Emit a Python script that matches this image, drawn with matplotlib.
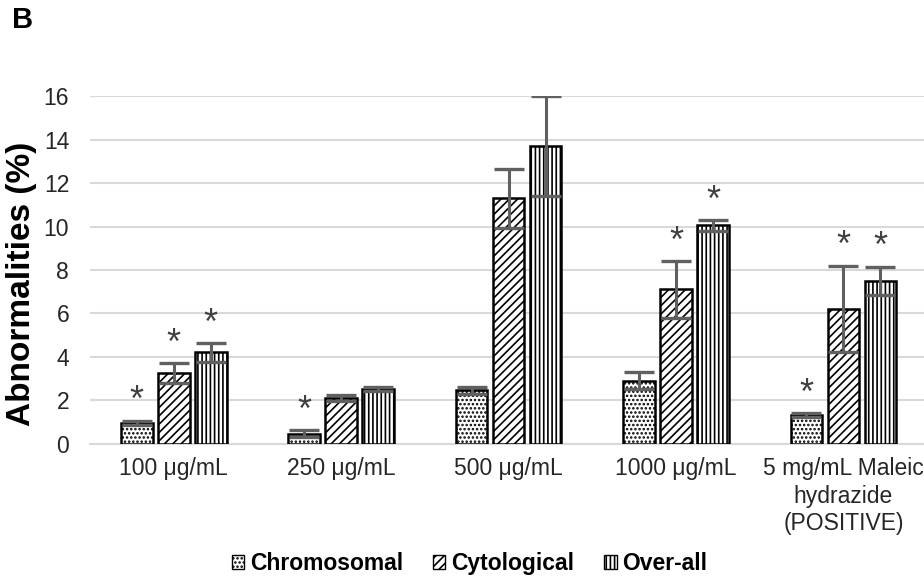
import numpy as np
import matplotlib.pyplot as plt
from matplotlib.patches import Patch

plt.rcParams['font.family'] = ['Liberation Sans', 'DejaVu Sans']
plt.rcParams['hatch.linewidth'] = 1.2

# dane
groups = ['100 μg/mL', '250 μg/mL', '500 μg/mL', '1000 μg/mL',
          '5 mg/mL Maleic\nhydrazide\n(POSITIVE)']
series = ['Chromosomal', 'Cytological', 'Over-all']
chromosomal = [0.95, 0.45, 2.45, 2.9, 1.3]
chromosomal_err = [0.1, 0.15, 0.15, 0.38, 0.1]
cytological = [3.25, 2.1, 11.3, 7.1, 6.2]
cytological_err = [0.45, 0.15, 1.35, 1.3, 2.0]
overall = [4.2, 2.5, 13.7, 10.05, 7.5]
overall_err = [0.43, 0.1, 2.3, 0.25, 0.65]
# gwiazdki istotnosci
chromosomal_sig = [1, 1, 0, 0, 1]
cytological_sig = [1, 0, 0, 1, 1]
overall_sig = [1, 0, 0, 1, 1]

hatches = ['....', '////', '||||']
values = [chromosomal, cytological, overall]
errors = [chromosomal_err, cytological_err, overall_err]
sigs = [chromosomal_sig, cytological_sig, overall_sig]

fig = plt.figure(figsize=(9.24, 5.79), dpi=100)
ax = fig.add_axes([0.0974, 0.234, 0.906, 0.5996])

x = np.arange(len(groups))
width = 0.19
step = 0.221
star_size = 26
# przesuniecie linii bazowej gwiazdki (srodek gwiazdki ~0.58 em nad linia bazowa)
star_shift = 1.4 - 0.58 * star_size / 72 * 100 / (0.5996 * 579 / 16)
for i in range(3):
    pos = x + (i - 1) * step
    ax.bar(pos, values[i], width, color='white', edgecolor='black',
           hatch=hatches[i], linewidth=1.8, zorder=3)
    ax.errorbar(pos, values[i], yerr=errors[i], fmt='none', ecolor='#606060',
                elinewidth=2.2, capsize=11, capthick=2.4, zorder=4)
    for p, v, e, s in zip(pos, values[i], errors[i], sigs[i]):
        if s:
            ax.text(p, v + e + star_shift, '*', ha='center', va='baseline',
                    fontsize=star_size, color='#404040', zorder=5)

ax.set_ylim(0, 16)
ax.set_xlim(-0.5, 4.5)
ax.set_yticks(np.arange(0, 17, 2))
ax.yaxis.grid(True, color='#d9d9d9', linewidth=1.5, zorder=0)
ax.set_axisbelow(True)
for s in ['top', 'right', 'left']:
    ax.spines[s].set_visible(False)
ax.spines['bottom'].set_color('#d9d9d9')
ax.spines['bottom'].set_linewidth(1.5)
ax.tick_params(axis='both', length=0, labelsize=16.5, colors='#262626')
ax.tick_params(axis='y', pad=15)
ax.tick_params(axis='x', pad=10)
ax.set_xticks(x)
ax.set_xticklabels(groups, linespacing=1.25)
ax.set_ylabel('Abnormalities (%)', fontsize=24, fontweight='bold')
ax.yaxis.set_label_coords(-0.063, 0.46)

handles = [Patch(facecolor='white', edgecolor='black', hatch=h, label=l)
           for h, l in zip(hatches, series)]
fig.legend(handles=handles, loc='center', bbox_to_anchor=(0.508, 0.026), ncol=3,
           frameon=False, prop={'weight': 'bold', 'size': 16.5},
           handlelength=0.55, handleheight=0.55, handletextpad=0.25, columnspacing=1.3)

fig.text(0.013, 0.965, 'B', fontsize=21, fontweight='bold', va='center')

fig.savefig('out.png', dpi=100)
